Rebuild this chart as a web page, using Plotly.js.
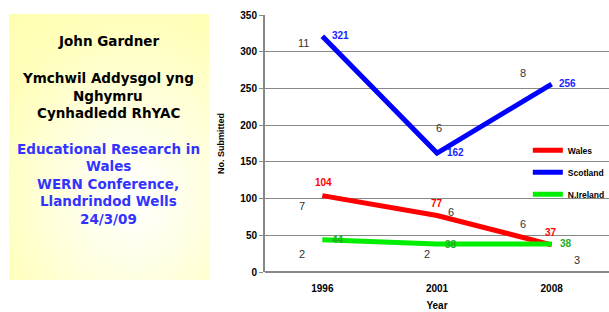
<!DOCTYPE html>
<html><head><meta charset="utf-8">
<script src="https://cdn.plot.ly/plotly-3.0.1.min.js"></script>
<style>
html,body{margin:0;padding:0;background:#fff;}
#wrap{position:relative;width:609px;height:312px;}
#box{position:absolute;left:9px;top:14px;width:200px;height:266px;
background:radial-gradient(ellipse 120% 110% at 62% 68%, #ffffff 0%, #ffffe6 25%, #ffffbb 60%, #ffffa8 100%);}
#chart{position:absolute;left:0;top:0;width:609px;height:312px;}
</style></head>
<body><div id="wrap"><div id="box"></div><div id="chart"></div></div>
<script>
const years = ['1996','2001','2008'];
const wales = [104, 77, 37];
const scotland = [321, 162, 256];
const nireland = [44, 38, 38];
const seriesNames = ['Wales','Scotland','N.Ireland'];
// grey counts shown near points (year index, value position, text)
const countYear = [0, 0, 0, 1, 1, 1, 2, 2, 2];
const countPos  = [312, 90, 25, 196, 82, 25, 271, 66, 17];
const countText = ['11','7','2','6','6','2','8','6','3'];
const countDx   = [-19, -20, -20, 2, 14, -10, -29, -29, 25];
const leftText = ['John Gardner','Ymchwil Addysgol yng','Nghymru','Cynhadledd RhYAC',
  'Educational Research in','Wales','WERN Conference,','Llandrindod Wells','24/3/09'];
const leftY = [41, 78, 96, 113, 149, 166, 184, 201, 219];
const leftCol = ['#000','#000','#000','#000','#3333ff','#3333ff','#3333ff','#3333ff','#3333ff'];

const colors = ['#ff0000','#0000ff','#00ee00'];
const vals = [wales, scotland, nireland];
const traces = vals.map((v,i)=>({
  x: years, y: v, type:'scatter', mode:'lines', name: seriesNames[i],
  legendgroup: 'g'+i,
  line:{color:colors[i], width:5}
}));

const ann = [];
const lblCol = ['#ff0000','#2222ff','#22aa22'];
const lblShift = [
  [[1,13],[0,12],[-1,12]],
  [[18,1],[18,1],[16,1]],
  [[16,0],[14,0],[14,1]]
];
vals.forEach((v,i)=>v.forEach((val,j)=>{
  ann.push({x:j, y:val, xref:'x', yref:'y', text:String(val), showarrow:false,
    xanchor:'center', yanchor:'middle',
    xshift: lblShift[i][j][0], yshift: lblShift[i][j][1],
    font:{family:'Liberation Sans, Arial', size:10, color:lblCol[i], weight:'bold'}});
}));
countText.forEach((t,k)=>ann.push({x:countYear[k], y:countPos[k], xref:'x', yref:'y', text:t,
  showarrow:false, xshift:countDx[k], xanchor:'center', yanchor:'middle',
  font:{family:'Liberation Sans, Arial', size:11, color:'#333'}}));

const L=265, R=0, T=15, B=40, W=609, H=312;
const pw = W-L-R, ph = H-T-B;
leftText.forEach((t,k)=>ann.push({x:(108-L)/pw, y:(H-B-leftY[k])/ph, xref:'paper', yref:'paper',
  text:t, showarrow:false, xanchor:'center', yanchor:'middle',
  font:{family:'DejaVu Sans', size:13.5, color:leftCol[k], weight:'bold'}}));

const layout = {
  width:W, height:H,
  margin:{l:L, r:R, t:T, b:B, autoexpand:false},
  paper_bgcolor:'rgba(0,0,0,0)', plot_bgcolor:'rgba(0,0,0,0)',
  showlegend:true,
  legend:{x:0.764, y:0.53, xanchor:'left', yanchor:'top', bgcolor:'rgba(0,0,0,0)',
    font:{family:'Liberation Sans, Arial', size:8.5, color:'#000', weight:'bold'},
    traceorder:'grouped', tracegroupgap:3, itemwidth:30},
  xaxis:{type:'category', range:[-0.5, 2.5], autorange:false, automargin:false, showgrid:false, zeroline:false, showline:false,
    tickfont:{family:'Liberation Sans, Arial', size:10, color:'#000', weight:'bold'},
    ticks:'outside', ticklen:7, tickcolor:'rgba(0,0,0,0)',
    title:{text:'Year', standoff:8, font:{family:'Liberation Sans, Arial', size:10, color:'#000', weight:'bold'}}},
  yaxis:{range:[0,350], autorange:false, automargin:false, dtick:50, showgrid:true, gridcolor:'#888', gridwidth:1,
    zeroline:true, zerolinecolor:'#888', zerolinewidth:2, showline:true, linecolor:'#888', linewidth:2,
    ticks:'outside', ticklen:4, tickcolor:'#888',
    tickfont:{family:'Liberation Sans, Arial', size:10, color:'#000', weight:'bold'},
    title:{text:'No. Submitted', standoff:14, font:{family:'Liberation Sans, Arial', size:9, color:'#000', weight:'bold'}}},
  annotations: ann
};
Plotly.newPlot('chart', traces, layout, {displayModeBar:false, staticPlot:true});
</script></body></html>
